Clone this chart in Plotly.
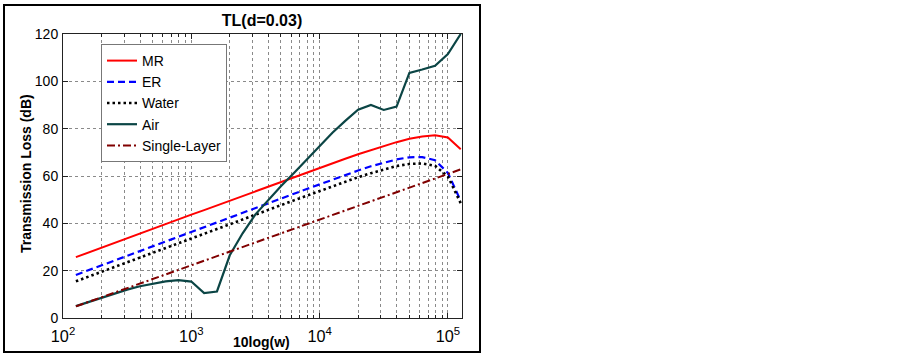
import plotly.graph_objects as go

# ---- data ----
w = [126, 158, 200, 251, 316, 398, 501, 631, 794, 1000, 1259, 1585, 1995, 2512,
     3162, 3981, 5012, 6310, 7943, 10000, 12589, 15849, 19953, 25119, 31623,
     39811, 50119, 63096, 79433, 100000, 125893]

mr = [25.7, 27.7, 29.7, 31.7, 33.7, 35.7, 37.7, 39.7, 41.7, 43.7, 45.6, 47.6, 49.6, 51.6,
      53.6, 55.6, 57.6, 59.5, 61.5, 63.5, 65.4, 67.3, 69.2, 71.0, 72.7, 74.3, 75.7, 76.7,
      77.2, 76.3, 71.3]
er = [18.2, 20.2, 22.2, 24.3, 26.3, 28.3, 30.3, 32.3, 34.4, 36.4, 38.4, 40.4, 42.4, 44.5,
      46.5, 48.5, 50.5, 52.5, 54.5, 56.5, 58.5, 60.4, 62.3, 64.1, 65.7, 67.0, 67.9, 68.0,
      66.7, 61.3, 49.5]
water = [15.5, 17.5, 19.5, 21.5, 23.5, 25.5, 27.5, 29.5, 31.5, 33.6, 35.6, 37.6, 39.6, 41.7,
         43.7, 45.7, 47.7, 49.7, 51.7, 53.7, 55.7, 57.6, 59.5, 61.2, 62.8, 64.2, 65.1, 65.3,
         64.3, 59.8, 48.5]
air = [5.0, 6.7, 8.5, 10.3, 12.0, 13.4, 14.6, 15.5, 16.0, 15.4, 10.5, 11.2, 26.5, 35.8,
       43.8, 49.8, 55.8, 61.3, 67.0, 72.8, 78.3, 83.3, 88.0, 90.0, 87.9, 89.3, 103.6, 105.0,
       106.6, 111.5, 120.0]
single = [4.9, 6.8, 8.8, 10.7, 12.6, 14.6, 16.5, 18.4, 20.4, 22.3, 24.2, 26.1, 28.1, 30.0,
          31.9, 33.9, 35.8, 37.7, 39.7, 41.6, 43.5, 45.4, 47.4, 49.3, 51.2, 53.2, 55.1, 57.0,
          59.0, 60.9, 62.8]

series = [
    ("MR", mr, "#ff0000", "solid", 2),
    ("ER", er, "#0000ff", "7px,4px", 2.2),
    ("Water", water, "#000000", "2.5px,3px", 2.6),
    ("Air", air, "#0b4545", "solid", 2.2),
    ("Single-Layer", single, "#800000", "8px,3px,2px,3px", 2),
]

yticks = [0, 20, 40, 60, 80, 100, 120]

FONT = "Liberation Sans, Arial, Helvetica, sans-serif"

fig = go.Figure()
for name, vals, col, dash, lw in series:
    fig.add_trace(go.Scatter(x=w, y=vals, mode="lines", name=name,
                             line=dict(color=col, dash=dash, width=lw)))

L, R, T, B = 63, 462, 34, 318
W, H = 902, 356
pw, ph = R - L, B - T

grid = dict(showgrid=True, gridcolor="#8a8a8a", griddash="dot", gridwidth=1)

fig.update_layout(
    width=W, height=H,
    margin=dict(l=L, r=W - R, t=T, b=H - B, pad=0, autoexpand=False),
    paper_bgcolor="white", plot_bgcolor="white",
    font=dict(family=FONT, size=14, color="black"),
    showlegend=True,
    legend=dict(x=(101 - L) / pw, y=(B - 44) / ph, xanchor="left", yanchor="top",
                bgcolor="white", bordercolor="#777777", borderwidth=1,
                font=dict(size=14, family=FONT), tracegroupgap=0,
                itemwidth=30),
    xaxis=dict(type="log", range=[2, 5.11], dtick=1, exponentformat="power",
               showline=True, linecolor="#222222", linewidth=1, mirror="ticks",
               ticks="inside", ticklen=5, tickcolor="#222222",
               tickfont=dict(size=13, family=FONT), ticklabelstandoff=4,
               minor=dict(dtick="D1", ticks="inside", ticklen=3, tickcolor="#222222",
                          showgrid=True, gridcolor="#8a8a8a", griddash="dot", gridwidth=1),
               zeroline=False, **grid),
    yaxis=dict(range=[0, 120], tickvals=yticks,
               showline=True, linecolor="#222222", linewidth=1, mirror="ticks",
               ticks="inside", ticklen=5, tickcolor="#222222",
               tickfont=dict(size=14, family=FONT), ticklabelstandoff=1,
               zeroline=False, **grid),
    title=dict(text="<b>TL(d=0.03)</b>", x=262 / W, xanchor="center",
               y=1 - 20 / H, yanchor="middle", yref="container",
               font=dict(size=16, family=FONT)),
)

# axis labels
fig.add_annotation(text="<b>10log(w)</b>", xref="paper", yref="paper",
                   x=(261 - L) / pw, y=(B - 342) / ph, showarrow=False,
                   xanchor="center", yanchor="middle", font=dict(size=14, family=FONT))
fig.add_annotation(text="<b>Transmission Loss (dB)</b>", xref="paper", yref="paper",
                   x=(26 - L) / pw, y=(B - 174) / ph, showarrow=False,
                   textangle=-90, xanchor="center", yanchor="middle",
                   font=dict(size=14, family=FONT))

# outer border
fig.add_shape(type="rect", xref="paper", yref="paper",
              x0=(4 - L) / pw, x1=(480 - L) / pw,
              y0=(B - 352) / ph, y1=(B - 5) / ph,
              line=dict(color="black", width=2), fillcolor="rgba(0,0,0,0)", layer="above")

fig.write_html("out.html", config={"displayModeBar": False},
               post_script="document.body.style.margin='0px';document.body.style.padding='0px';")
